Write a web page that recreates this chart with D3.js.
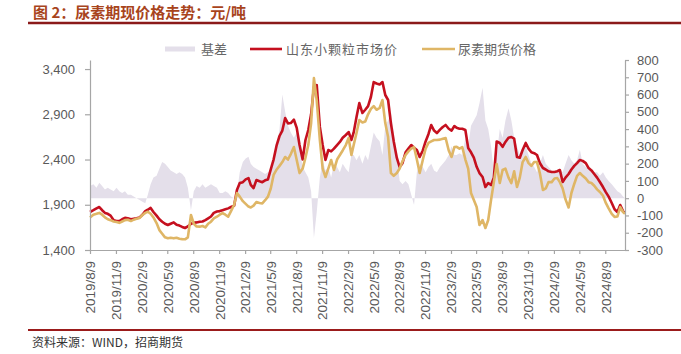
<!DOCTYPE html>
<html><head><meta charset="utf-8">
<script src="https://cdn.jsdelivr.net/npm/d3@7"></script>
<style>body{margin:0;background:#fff}svg{display:block}</style>
</head><body><svg id="c" width="681" height="354"></svg>
<script>
const dates=[
"2019-08-09","2019-08-21","2019-09-01","2019-09-11","2019-09-21","2019-10-01","2019-10-11","2019-10-21","2019-11-01","2019-11-11","2019-11-21","2019-12-01","2019-12-11","2019-12-21",
"2020-01-01","2020-01-11","2020-01-21","2020-02-01","2020-02-11","2020-02-21","2020-03-01","2020-03-11","2020-03-21","2020-04-01","2020-04-11","2020-04-21","2020-05-01","2020-05-11","2020-05-21","2020-06-01","2020-06-11","2020-06-21","2020-07-01","2020-07-11","2020-07-21","2020-08-01","2020-08-11","2020-08-21","2020-09-01","2020-09-11","2020-09-21","2020-10-01","2020-10-11","2020-10-21","2020-11-01","2020-11-11","2020-11-21","2020-12-01","2020-12-11","2020-12-21",
"2021-01-01","2021-01-11","2021-01-21","2021-02-01","2021-02-11","2021-02-21","2021-03-01","2021-03-11","2021-03-21","2021-04-01","2021-04-11","2021-04-21","2021-05-01","2021-05-11","2021-05-21","2021-06-01","2021-06-11","2021-06-21","2021-07-01","2021-07-11","2021-07-21","2021-08-01","2021-08-11","2021-08-21","2021-09-01","2021-09-11","2021-09-21","2021-10-01","2021-10-11","2021-10-21","2021-11-01","2021-11-11","2021-11-21","2021-12-01","2021-12-11","2021-12-21",
"2022-01-01","2022-01-11","2022-01-21","2022-02-01","2022-02-11","2022-02-21","2022-03-01","2022-03-11","2022-03-21","2022-04-01","2022-04-11","2022-04-21","2022-05-01","2022-05-11","2022-05-21","2022-06-01","2022-06-11","2022-06-21","2022-07-01","2022-07-11","2022-07-21","2022-08-01","2022-08-11","2022-08-21","2022-09-01","2022-09-11","2022-09-21","2022-10-01","2022-10-11","2022-10-21","2022-11-01","2022-11-11","2022-11-21","2022-12-01","2022-12-11","2022-12-21",
"2023-01-01","2023-01-11","2023-01-21","2023-02-01","2023-02-11","2023-02-21","2023-03-01","2023-03-11","2023-03-21","2023-04-01","2023-04-11","2023-04-21","2023-05-01","2023-05-11","2023-05-21","2023-06-01","2023-06-11","2023-06-21","2023-07-01","2023-07-11","2023-07-21","2023-08-01","2023-08-11","2023-08-21","2023-09-01","2023-09-11","2023-09-21","2023-10-01","2023-10-11","2023-10-21","2023-11-01","2023-11-11","2023-11-21","2023-12-01","2023-12-11","2023-12-21",
"2024-01-01","2024-01-11","2024-01-21","2024-02-01","2024-02-11","2024-02-21","2024-03-01","2024-03-11","2024-03-21","2024-04-01","2024-04-11","2024-04-21","2024-05-01","2024-05-11","2024-05-21","2024-06-01","2024-06-11","2024-06-21","2024-07-01","2024-07-11","2024-07-21","2024-08-01","2024-08-11","2024-08-21","2024-09-01","2024-09-11","2024-09-21","2024-10-01","2024-10-11","2024-10-18"];

// 山东小颗粒市场价
const spot=[
1820,1840,1860,1875,1840,1810,1800,1780,1730,1720,1720,1740,1755,1750,
1740,1745,1750,1760,1790,1830,1845,1865,1820,1780,1740,1713,1690,1676,1690,1705,1680,1670,1655,1643,1660,1690,1700,1705,1713,1715,1730,1750,1770,1810,1825,1830,1840,1850,1860,1875,
1890,2063,2140,2150,2180,2195,2120,2085,2173,2160,2150,2170,2180,2290,2400,2560,2660,2720,2859,2800,2803,2840,2750,2560,2400,2616,2726,2900,3200,3223,2760,2560,2395,2505,2490,2520,
2560,2594,2640,2671,2704,2616,2700,2870,3024,2914,2950,2990,3091,3256,3240,3230,3256,3113,3058,2800,2600,2417,2317,2360,2480,2520,2560,2530,2505,2428,2500,2600,2680,2782,2720,2693,
2730,2760,2782,2740,2720,2770,2750,2740,2740,2726,2527,2480,2420,2320,2250,2207,2096,2140,2118,2200,2600,2583,2540,2594,2640,2649,2630,2428,2420,2505,2583,2520,2480,2470,2450,2361,
2306,2290,2270,2262,2262,2270,2284,2151,2200,2240,2290,2330,2361,2395,2385,2360,2306,2280,2240,2200,2151,2096,2040,1990,1920,1850,1820,1897,1830,1810];

// 尿素期货价格
const futures=[
1760,1790,1800,1810,1790,1760,1740,1730,1715,1710,1700,1715,1730,1735,
1720,1735,1745,1754,1787,1810,1823,1800,1760,1698,1620,1580,1540,1530,1535,1529,1535,1525,1520,1518,1540,1787,1690,1660,1658,1665,1650,1690,1713,1750,1768,1790,1808,1790,1768,1830,
1900,2030,1990,1940,1910,1880,1870,1890,1930,1920,1915,1950,1990,2080,2230,2290,2330,2372,2428,2400,2460,2538,2395,2250,2300,2420,2560,2800,3300,3050,2616,2300,2207,2300,2395,2284,
2400,2450,2500,2560,2638,2450,2560,2693,2837,2810,2820,2900,2960,2990,2950,2970,3058,2803,2649,2250,2220,2251,2300,2380,2450,2490,2520,2538,2400,2251,2395,2520,2583,2600,2616,2616,
2620,2630,2638,2500,2428,2538,2540,2520,2538,2400,2300,2030,1953,1875,1676,1731,1643,1731,1953,2150,2350,2140,2284,2300,2200,2140,2270,2096,2200,2372,2428,2360,2330,2372,2372,2251,
2063,2080,2151,2150,2190,2195,2150,2080,1960,1870,2030,2130,2220,2251,2220,2190,2150,2140,2110,2070,2041,2000,1920,1860,1800,1765,1770,1875,1820,1800];

// 基差（右轴）
const basis=[
70,80,60,90,70,50,60,50,40,60,40,30,40,20,
20,10,0,-10,-20,-30,20,80,120,130,170,210,200,180,160,150,140,150,140,120,60,-70,40,70,60,80,60,70,80,70,60,30,30,40,30,10,
0,30,150,210,230,240,200,180,170,160,150,140,150,160,200,300,400,600,500,420,380,350,380,300,180,150,120,40,-230,-80,120,220,160,180,120,200,
180,150,200,170,150,250,250,220,250,200,250,220,300,380,350,330,250,420,450,500,380,250,100,80,100,80,20,-40,150,200,180,150,180,200,160,150,
180,200,220,250,300,250,250,260,250,350,300,420,450,480,550,640,450,400,300,150,250,400,350,450,520,450,350,300,250,280,300,250,200,180,150,200,
250,200,180,160,150,160,170,150,200,250,220,200,220,280,200,180,170,160,150,150,130,150,120,100,80,60,40,30,10,0];

const leftTicks=[1400,1900,2400,2900,3400];
const rightTicks=[-300,-200,-100,0,100,200,300,400,500,600,700,800];
const xTickLabels=["2019/8/9","2019/11/9","2020/2/9","2020/5/9","2020/8/9","2020/11/9","2021/2/9","2021/5/9","2021/8/9","2021/11/9","2022/2/9","2022/5/9","2022/8/9","2022/11/9","2023/2/9","2023/5/9","2023/8/9","2023/11/9","2024/2/9","2024/5/9","2024/8/9"];
const seriesNames=["基差","山东小颗粒市场价","尿素期货价格"];
const titleText="图 2：尿素期现价格走势：元/吨";
const sourceText="资料来源：WIND，招商期货";

const colors={basis:"#e4dfea",spot:"#c5101f",fut:"#dfb666",axis:"#a6a6a6",label:"#595959"};
const svg=d3.select("#c");
const parse=d3.timeParse("%Y-%m-%d");
const parseTick=d3.timeParse("%Y/%m/%d");
const D=dates.map(parse);
const L={x0:90,x1:625,y0:250,y1:60};
const x=d3.scaleTime().domain([D[0],D[D.length-1]]).range([L.x0,L.x1]);
const yL=d3.scaleLinear().domain([1400,3500]).range([L.y0,L.y1]);
const yR=d3.scaleLinear().domain([-300,800]).range([L.y0,L.y1]);
const cjk="'Noto Sans CJK SC','Noto Sans',sans-serif";
const lat="'Liberation Sans',Arial,sans-serif";

// title
svg.append("text").attr("x",33).attr("y",18).text(titleText)
 .attr("font-family",cjk).attr("font-weight","bold").attr("font-size",15).attr("fill","#a8441c");
svg.append("line").attr("x1",28).attr("x2",681).attr("y1",23).attr("y2",23).attr("stroke","#8b1a1a").attr("stroke-width",2.5);

// basis area
svg.append("path").datum(basis)
 .attr("d",d3.area().x((d,i)=>x(D[i])).y0(yR(0)).y1(d=>yR(d)))
 .attr("fill",colors.basis);

// lines
svg.append("path").datum(spot).attr("fill","none").attr("stroke",colors.spot).attr("stroke-width",2.6).attr("stroke-linejoin","round")
 .attr("d",d3.line().x((d,i)=>x(D[i])).y(d=>yL(d)));
svg.append("path").datum(futures).attr("fill","none").attr("stroke",colors.fut).attr("stroke-width",2.6).attr("stroke-linejoin","round")
 .attr("d",d3.line().x((d,i)=>x(D[i])).y(d=>yL(d)));

// left axis
const gl=svg.append("g").attr("transform",`translate(${L.x0},0)`)
 .call(d3.axisLeft(yL).tickValues(leftTicks).tickFormat(d3.format(",")).tickSize(5).tickSizeOuter(0).tickPadding(10));
// right axis
const gr=svg.append("g").attr("transform",`translate(${L.x1},0)`)
 .call(d3.axisRight(yR).tickValues(rightTicks).tickFormat(d=>d<0?"-"+Math.abs(d):d).tickSize(4).tickSizeOuter(0).tickPadding(8));
// bottom axis
const gb=svg.append("g").attr("transform",`translate(0,${L.y0})`)
 .call(d3.axisBottom(x).tickValues(xTickLabels.map(parseTick)).tickFormat((d,i)=>xTickLabels[i]).tickSize(4).tickSizeOuter(0));
gb.selectAll("text").attr("transform","rotate(-90)").attr("text-anchor","end").attr("dx","-5").attr("dy","0.35em").attr("x",0).attr("y",0)
 .attr("transform",function(){return "rotate(-90)";});
gb.selectAll(".tick text").attr("x",-6).attr("y",0).attr("dy","0.36em");
[gl,gr,gb].forEach(g=>{
 g.select(".domain").attr("stroke",colors.axis).attr("stroke-width",1.2);
 g.selectAll(".tick line").attr("stroke",colors.axis).attr("stroke-width",1.2);
 g.selectAll("text").attr("fill",colors.label).attr("font-family",lat).attr("font-size",13);
});
gb.selectAll("text").attr("font-size",13.5);

// legend
const lg=svg.append("g").attr("font-family",cjk).attr("font-size",13).attr("fill","#666");
lg.append("rect").attr("x",165).attr("y",46.5).attr("width",30).attr("height",5).attr("fill",colors.basis);
lg.append("text").attr("x",201).attr("y",49).attr("dy","0.35em").text(seriesNames[0]);
lg.append("line").attr("x1",250).attr("x2",282).attr("y1",49).attr("y2",49).attr("stroke",colors.spot).attr("stroke-width",2.6);
lg.append("text").attr("x",286).attr("y",49).attr("dy","0.35em").attr("letter-spacing",1).text(seriesNames[1]);
lg.append("line").attr("x1",422).attr("x2",455).attr("y1",49).attr("y2",49).attr("stroke",colors.fut).attr("stroke-width",2.6);
lg.append("text").attr("x",458).attr("y",49).attr("dy","0.35em").text(seriesNames[2]);

// source
svg.append("line").attr("x1",28).attr("x2",681).attr("y1",330).attr("y2",330).attr("stroke","#9b1b1b").attr("stroke-width",2);
svg.append("text").attr("x",32).attr("y",347).text(sourceText).attr("font-family",cjk).attr("font-size",12).attr("fill","#333");
</script></body></html>
